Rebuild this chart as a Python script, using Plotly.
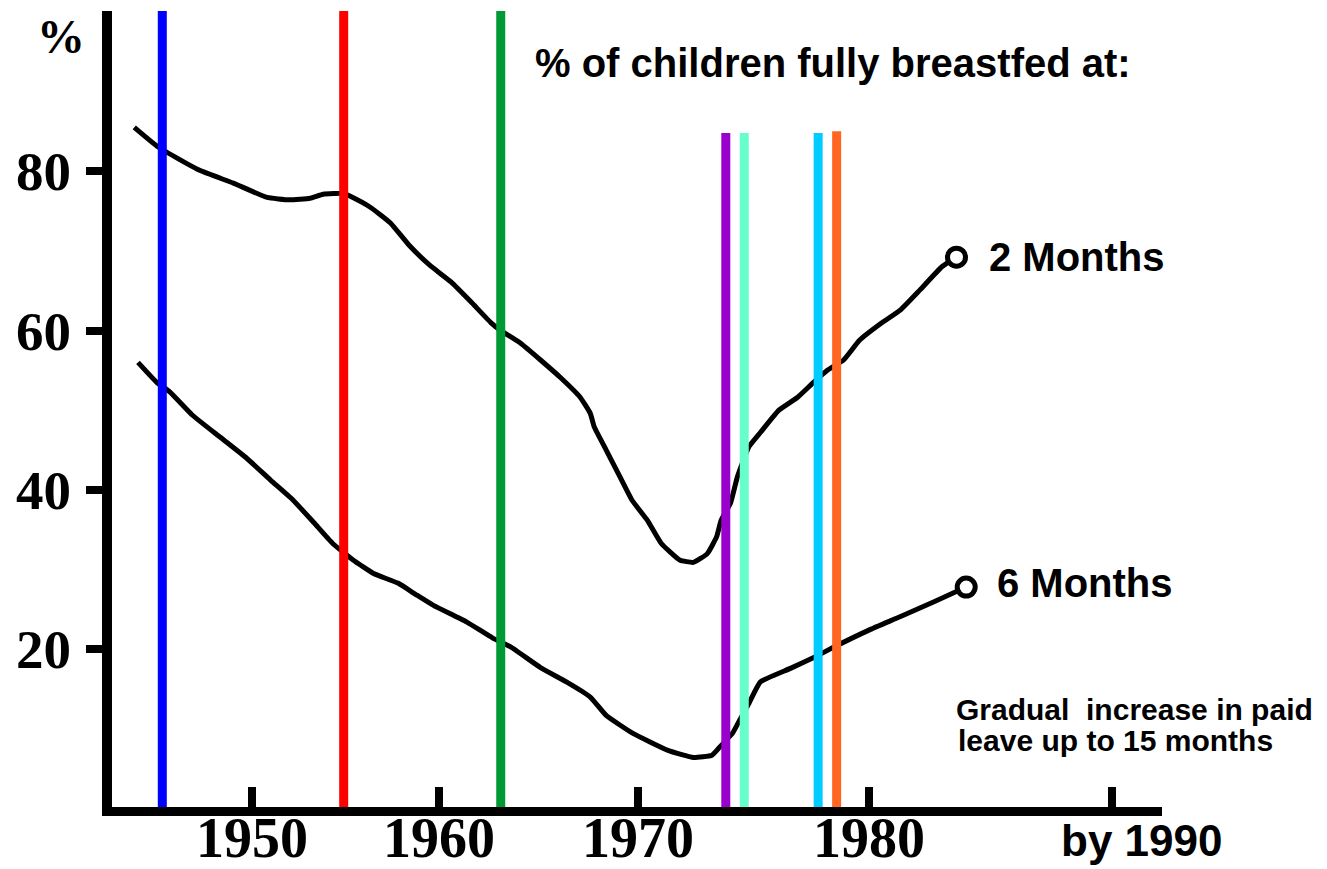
import numpy as np
import plotly.graph_objects as go

# ---------------- data ----------------
YEARS_2M = [1943.7, 1945.0, 1947.2, 1949.0, 1950.8, 1952.0, 1953.1, 1953.8, 1954.9, 1955.2,
            1956.3, 1957.4, 1958.4, 1959.5, 1960.6, 1961.6, 1962.6, 1963.1, 1964.1, 1965.1,
            1966.1, 1967.1, 1967.6, 1967.8, 1968.4, 1969.1, 1969.7, 1970.4, 1971.0, 1971.8,
            1972.4, 1973.0, 1973.4, 1973.6, 1974.0, 1974.3, 1974.8, 1975.3, 1976.1, 1976.9,
            1977.6, 1978.2, 1978.9, 1979.6, 1980.5, 1981.3, 1982.1, 1983.0, 1983.6]
VAL_2M = [85.5, 83.0, 80.1, 78.5, 76.7, 76.4, 76.6, 77.1, 77.2, 76.9,
          75.5, 73.5, 70.7, 68.2, 66.1, 63.6, 61.0, 60.0, 58.4, 56.3,
          54.1, 51.6, 49.6, 47.9, 45.0, 41.6, 38.7, 36.2, 33.3, 31.2,
          30.9, 32.0, 34.1, 36.2, 38.3, 41.6, 45.4, 47.2, 50.0, 51.6,
          53.5, 55.0, 56.3, 58.8, 60.9, 62.6, 65.1, 68.0, 69.2]

YEARS_6M = [1943.9, 1944.9, 1945.6, 1946.8, 1948.3, 1949.7, 1951.0, 1952.2, 1953.3, 1954.3,
            1955.4, 1956.5, 1957.8, 1958.8, 1959.7, 1961.4, 1962.7, 1963.6, 1965.1, 1966.4,
            1967.6, 1968.4, 1969.7, 1971.3, 1972.4, 1973.2, 1973.5, 1974.1, 1974.4, 1974.8,
            1975.3, 1976.6, 1977.7, 1978.5, 1980.0, 1981.3, 1982.7, 1984.0]
VAL_6M = [56.0, 53.5, 52.3, 49.4, 46.6, 44.0, 41.2, 38.7, 35.9, 33.3,
          31.2, 29.5, 28.3, 26.8, 25.5, 23.4, 21.4, 20.3, 17.7, 15.9,
          14.0, 11.7, 9.5, 7.3, 6.4, 6.7, 7.6, 9.5, 11.1, 13.2,
          15.9, 17.6, 19.1, 20.3, 22.4, 24.1, 26.0, 27.8]

EVENT_YEARS = [1945.2, 1954.9, 1963.1, 1973.8, 1974.6, 1977.8, 1978.6]
EVENT_TOPS = [100.1, 100.1, 100.1, 84.8, 84.8, 84.8, 85.0]
EVENT_COLORS = ["#0000FF", "#FF0000", "#009933", "#9900CC", "#66FFCC", "#00CCFF", "#FF6622"]

TICK_YEARS = [1950, 1960, 1970, 1980, 1990]
TICK_LABELS = ["1950", "1960", "1970", "1980", ""]
Y_TICKS = [20, 40, 60, 80]

# hand-drawn, uneven year axis: axis position of each labelled year
SCALE_POS = [0.0, 10.0, 20.64, 32.99, 45.99]


def warp(years):
    y = np.asarray(years, dtype=float)
    out = np.interp(y, TICK_YEARS, SCALE_POS)
    out = np.where(y < TICK_YEARS[0], SCALE_POS[0] + (y - TICK_YEARS[0]) * 1.0, out)
    out = np.where(y > TICK_YEARS[-1], SCALE_POS[-1] + (y - TICK_YEARS[-1]) * 1.3, out)
    return out


fig = go.Figure()

for yrs, vals in ((YEARS_2M, VAL_2M), (YEARS_6M, VAL_6M)):
    fig.add_trace(go.Scatter(x=warp(yrs), y=vals, mode="lines",
                             line=dict(color="black", width=5, shape="spline", smoothing=0.4),
                             hoverinfo="skip", showlegend=False))

for yr, top, col in zip(EVENT_YEARS, EVENT_TOPS, EVENT_COLORS):
    fig.add_trace(go.Scatter(x=warp([yr, yr]), y=[0.2, top], mode="lines",
                             line=dict(color=col, width=9), cliponaxis=False,
                             hoverinfo="skip", showlegend=False))

fig.add_trace(go.Scatter(x=warp([YEARS_2M[-1], YEARS_6M[-1]]), y=[VAL_2M[-1], VAL_6M[-1]],
                         mode="markers",
                         marker=dict(symbol="circle", size=18, color="white",
                                     line=dict(color="black", width=5)),
                         hoverinfo="skip", showlegend=False))

serif = "Liberation Serif"
sans = "Liberation Sans"

fig.update_layout(
    width=1327, height=869,
    margin=dict(l=112, r=165, t=11, b=62, autoexpand=False),
    paper_bgcolor="white", plot_bgcolor="white",
    xaxis=dict(range=[-7.49, 48.66], showgrid=False, zeroline=False, automargin=False,
               showline=True, linecolor="black", linewidth=9,
               tickmode="array", tickvals=warp(TICK_YEARS), ticktext=TICK_LABELS,
               ticks="inside", ticklen=20, tickwidth=8, tickcolor="black",
               ticklabelstandoff=-26,
               tickfont=dict(family=serif, size=56, color="black", weight="bold")),
    yaxis=dict(range=[0.2, 100.1], showgrid=False, zeroline=False, automargin=False,
               showline=True, linecolor="black", linewidth=10,
               tickmode="array", tickvals=Y_TICKS, ticktext=[str(v) for v in Y_TICKS],
               ticks="outside", ticklen=16, tickwidth=8, tickcolor="black",
               ticklabelstandoff=4,
               tickfont=dict(family=serif, size=55, color="black", weight="bold")),
)

annots = [
    dict(text="%", x=-0.0486, y=0.968, font=dict(family=serif, size=48, weight="bold")),
    dict(text="% of children fully breastfed at:", x=0.687, y=0.935,
         font=dict(family=sans, size=40, weight="bold")),
    dict(text="by 1990", x=0.98, y=-0.0427, font=dict(family=sans, size=44, weight="bold")),
    dict(text="2 Months", x=0.834, y=0.691, xanchor="left",
         font=dict(family=sans, size=40, weight="bold")),
    dict(text="6 Months", x=0.842, y=0.281, xanchor="left",
         font=dict(family=sans, size=40, weight="bold")),
    dict(text="Gradual  increase in paid", x=0.803, y=0.123, xanchor="left",
         font=dict(family=sans, size=30, weight="bold")),
    dict(text="leave up to 15 months", x=0.805, y=0.083, xanchor="left",
         font=dict(family=sans, size=30, weight="bold")),
]
for a in annots:
    a.setdefault("xanchor", "center")
    a["font"]["color"] = "black"
    fig.add_annotation(xref="paper", yref="paper", showarrow=False, yanchor="middle",
                       borderpad=0, **a)

fig.write_html("out.html", config={"displayModeBar": False},
               post_script="document.body.style.margin='0';")
